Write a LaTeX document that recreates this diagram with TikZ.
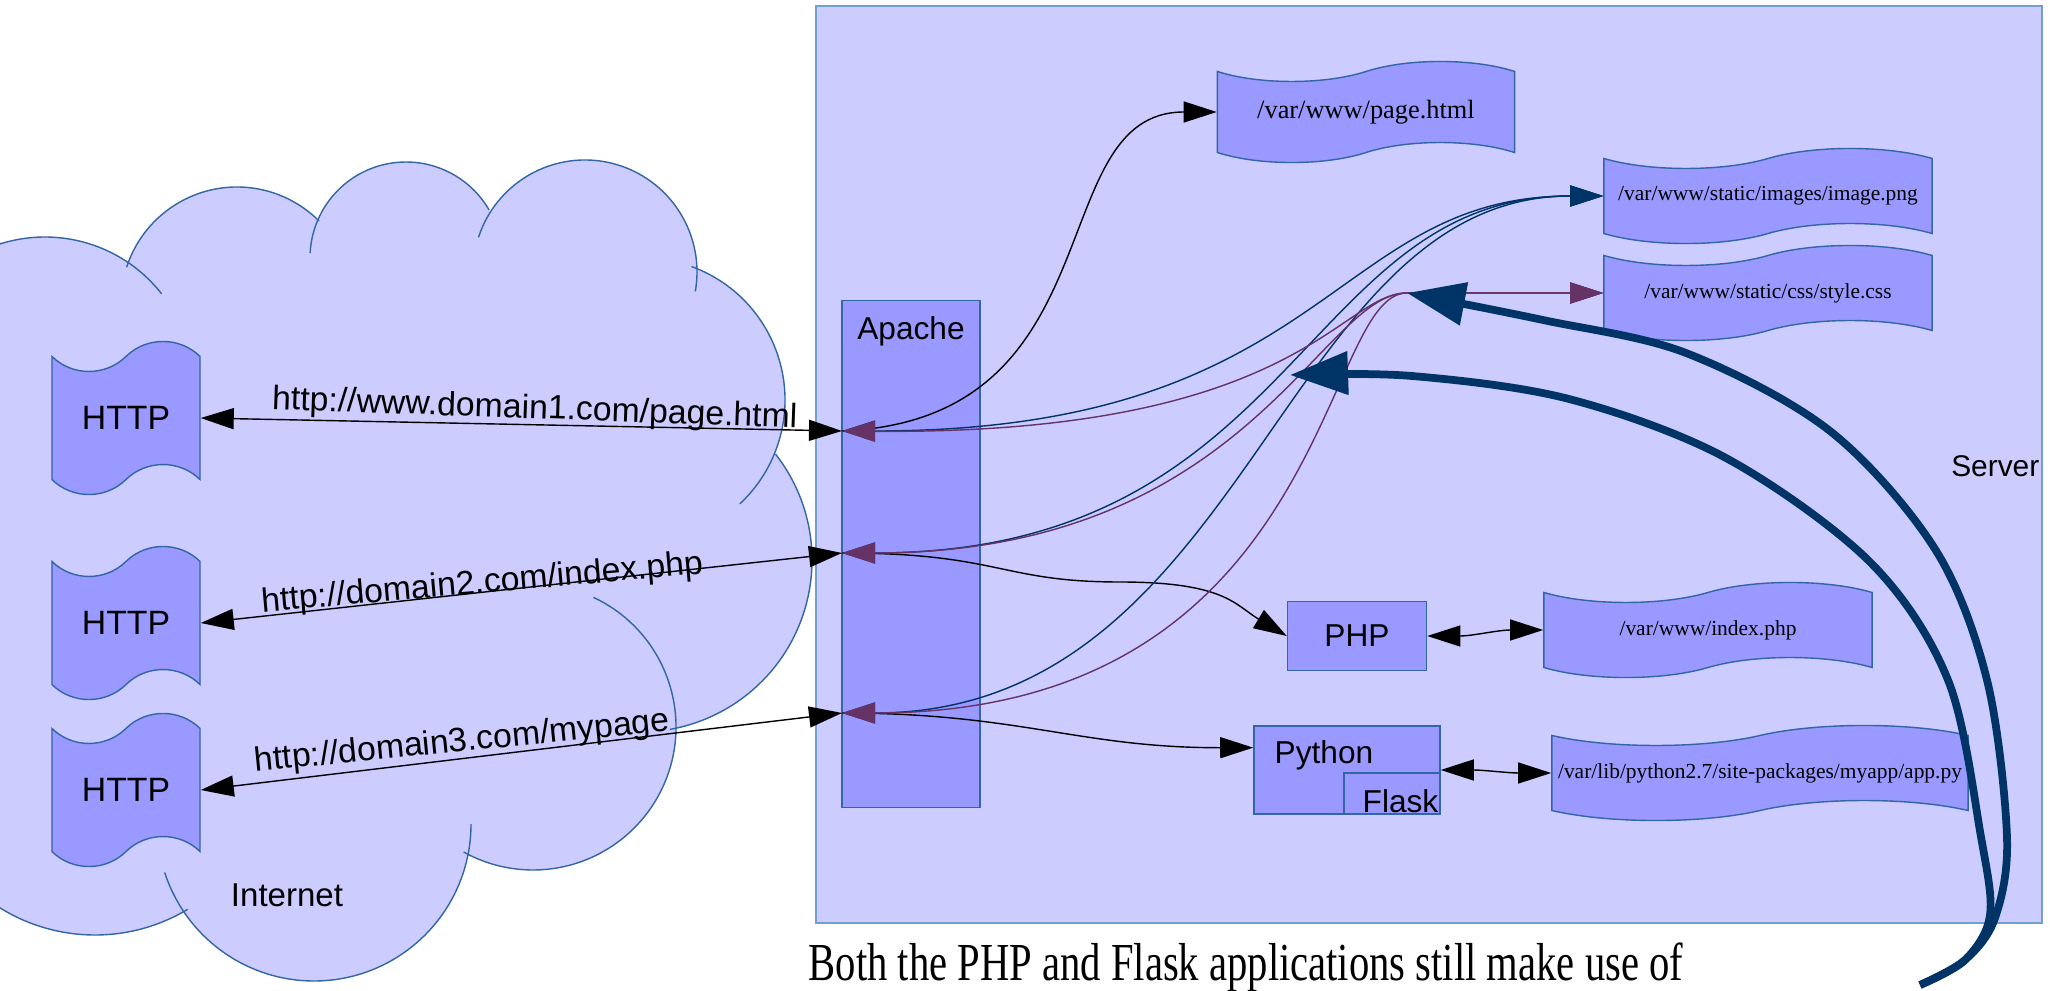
\documentclass[tikz,border=0pt]{standalone}
\usepackage{graphicx}
\usepackage{fontspec}
\setmainfont{Liberation Serif}
\setsansfont{Liberation Sans}
\usetikzlibrary{arrows.meta,shapes.symbols,calc}

\definecolor{cloudfill}{RGB}{204,204,255}
\definecolor{boxfill}{RGB}{153,153,255}
\definecolor{boxline}{RGB}{52,101,164}
\definecolor{serverline}{RGB}{114,159,207}
\definecolor{navy}{RGB}{0,51,102}
\definecolor{plum}{RGB}{102,51,102}

\newcommand\cloudlumps{45/605/148/125/38, 237/687/116/162/45, 406/732/96/177/30,
  585/718/112/162/-10, 643/590/142/70/-47, 640/430/172/38/-80,
  533/263/143/65/-119, 314/166/157/0/-162, 95/235/180/-59/-135}

\begin{document}
\begin{tikzpicture}[x=0.01cm, y=0.01cm,
    >={Triangle[length=0.33cm, width=0.21cm]},
    tapebox/.style={tape, draw=boxline, fill=boxfill, line width=0.4pt, inner sep=0pt},
    httptape/.style={tapebox, minimum width=1.48cm, minimum height=1.53cm,
      tape bend height=0.3cm, font=\sffamily\fontsize{9.6}{11}\selectfont},
    filetape/.style={tapebox, minimum height=0.95cm, tape bend height=0.2cm,
      font=\rmfamily\fontsize{6.1}{7}\selectfont},
    procbox/.style={rectangle, draw=boxline, fill=boxfill, line width=0.4pt,
      inner sep=0pt, font=\sffamily\fontsize{9}{11}\selectfont},
    plainlabel/.style={inner sep=0pt, font=\sffamily\fontsize{9}{11}\selectfont},
    urllabel/.style={inner sep=0pt, font=\sffamily\fontsize{9.6}{11}\selectfont},
    link/.style={line width=0.4pt},
    navylink/.style={link, draw=navy},
    plumlink/.style={link, draw=plum},
    bigarrow/.style={draw=navy, line width=2.2pt, -{Triangle[length=0.58cm, width=0.42cm]}},
    cloudline/.style={draw=boxline, line width=0.4pt}]
  \useasboundingbox (0,0) rectangle (2050,990);

  \fill[cloudfill] (-20,748) -- (0,748) -- (138,713) -- (318,768) -- (491,777) -- (695,715)
    -- (768,528) -- (672,259) -- (464,138) -- (183,87) -- (0,85) -- (-20,85) -- cycle;
  \foreach \cx/\cy/\r/\a/\b in \cloudlumps {
    \fill[cloudfill] (\cx,\cy) circle[radius=\r*0.01cm];
  }
  \foreach \cx/\cy/\r/\a/\b in \cloudlumps {
    \draw[cloudline] (\cx,\cy) ++(\a:\r) arc[start angle=\a, end angle=\b, radius=\r*0.01cm];
  }

  \draw[draw=serverline, fill=cloudfill, line width=0.5pt] (816,67) rectangle (2042,984);
  \node[plainlabel, anchor=east, font=\sffamily\fontsize{8.5}{10}\selectfont] (serverlbl) at (2040,524) {Server};
  \node[plainlabel, font=\sffamily\fontsize{9.4}{11}\selectfont] (netlbl) at (287,95) {Internet};

  \node[httptape] (http1) at (126,572) {HTTP};
  \node[httptape] (http2) at (126,367) {HTTP};
  \node[httptape] (http3) at (126,200) {HTTP};

  \node[procbox, minimum width=1.38cm, minimum height=5.07cm] (apache) at (911,436) {};
  \node[plainlabel, anchor=base] (apachelbl) at (911,650) {Apache};
  \node[procbox, minimum width=1.39cm, minimum height=0.69cm] (php) at (1357,354) {PHP};
  \node[procbox, minimum width=1.86cm, minimum height=0.88cm] (python) at (1347,220) {};
  \node[procbox, minimum width=0.96cm, minimum height=0.41cm, anchor=south east] (flask) at (python.south east) {};
  \node[plainlabel, anchor=base west] (pythonlbl) at (1274,227) {Python};
  \node[plainlabel, anchor=base east] (flasklbl) at (1439,178) {Flask};

  \node[filetape, minimum width=2.97cm, minimum height=1.01cm,
    font=\rmfamily\fontsize{7.5}{9}\selectfont] (page) at (1366,878) {/var/www/page.html};
  \node[filetape, minimum width=3.28cm] (png) at (1768,794) {/var/www/static/images/image.png};
  \node[filetape, minimum width=3.28cm] (css) at (1768,697) {/var/www/static/css/style.css};
  \node[filetape, minimum width=3.28cm] (index) at (1708,360) {/var/www/index.php};
  \node[filetape, minimum width=4.16cm] (app) at (1760,217) {/var/lib/python2.7/site-packages/myapp/app.py};

  \coordinate (port1) at (842,559);
  \coordinate (port2) at (842,437);
  \coordinate (port3) at (842,277);
  \coordinate (cssjoin) at (1407,697);
  \coordinate (crossing) at (1290,615);
  \coordinate (hook) at (1920,5);
  \coordinate (pythonin) at ($(python.north west)!0.25!(python.south west)$);

  \draw[link, <->] (http1.east) -- (port1)
    node[urllabel, pos=0.52, rotate=-2, yshift=0.15cm] {http://www.domain1.com/page.html};
  \draw[link, <->] (http2.east) -- (port2)
    node[urllabel, pos=0.44, rotate=5, yshift=0.08cm] {http://domain2.com/index.php};
  \draw[link, <->] (http3.east) -- (port3)
    node[urllabel, pos=0.41, rotate=5.6, yshift=0.16cm] {http://domain3.com/mypage};

  \draw[link, ->] (port1) .. controls (1120,570) and (1040,878) .. (page.west);
  \draw[link, ->] (port2) .. controls (1000,437) and (1000,408) .. (1120,408)
    .. controls (1225,408) and (1235,385) .. (php.west);
  \draw[link, ->] (port3) .. controls (1020,277) and (1080,242) .. (pythonin);
  \draw[link, <->] (php.east) to[out=0, in=180] (index.west);
  \draw[link, <->] (python.east) to[out=0, in=180] (app.west);

  \draw[navylink, <->] (port1) .. controls (1330,559) and (1330,794) .. (png.west);
  \draw[navylink, <->] (port2) .. controls (1300,437) and (1300,794) .. (png.west);
  \draw[navylink, <->] (port3) .. controls (1250,277) and (1280,794) .. (png.west);

  \draw[plumlink, <->] (port1) .. controls (1300,555) and (1340,697) .. (cssjoin) -- (css.west);
  \draw[plumlink, <->] (port2) .. controls (1250,437) and (1320,697) .. (cssjoin) -- (css.west);
  \draw[plumlink, <->] (port3) .. controls (1330,277) and (1320,697) .. (cssjoin) -- (css.west);

  \draw[bigarrow] plot[smooth, tension=0.55] coordinates {(hook) (1965,30) (1995,72)
    (2007,153) (1987,310) (1935,441) (1830,559) (1686,637) (1543,670) (cssjoin)};
  \draw[bigarrow] plot[smooth, tension=0.55] coordinates {(hook) (1965,30) (1990,75)
    (1981,153) (1948,310) (1870,428) (1726,532) (1569,591) (1412,614) (crossing)};

  \node[anchor=base west, inner sep=0pt, font=\rmfamily\fontsize{15.2}{18}\selectfont]
    (caption) at (808,10) {\scalebox{0.76}[1]{Both the PHP and Flask applications still make use of}};
\end{tikzpicture}
\end{document}
